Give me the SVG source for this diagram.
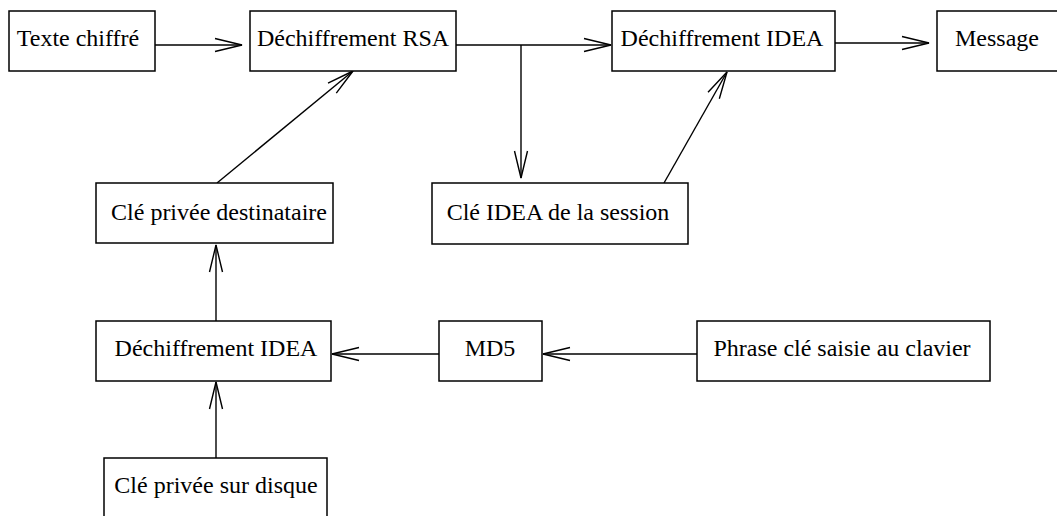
<svg xmlns="http://www.w3.org/2000/svg" width="1057" height="516" viewBox="0 0 1057 516">
<style>
.box{fill:#fff;stroke:#000;stroke-width:1.5}
.lbl{font-family:"Liberation Serif","Times New Roman",serif;font-size:24px;fill:#000;text-anchor:middle}
.con{fill:none;stroke:#000;stroke-width:1.4}
</style>
<defs>
<marker id="arr" viewBox="-30 -8 32 16" refX="0" refY="0" markerWidth="32" markerHeight="16" markerUnits="userSpaceOnUse" orient="auto">
<path d="M-27,-6.5 L0,0 L-27,6.5" fill="none" stroke="#000" stroke-width="1.4"/>
</marker>
</defs>
<rect width="1057" height="516" fill="#fff"/>
<g id="connectors">
<line class="con" x1="155" y1="45" x2="242" y2="45" marker-end="url(#arr)"/>
<line class="con" x1="456" y1="45" x2="611" y2="45" marker-end="url(#arr)"/>
<line class="con" x1="521" y1="45" x2="521" y2="178" marker-end="url(#arr)"/>
<line class="con" x1="664" y1="183" x2="727" y2="72" marker-end="url(#arr)"/>
<line class="con" x1="217" y1="183" x2="353" y2="71" marker-end="url(#arr)"/>
<line class="con" x1="835" y1="43" x2="929" y2="43" marker-end="url(#arr)"/>
<line class="con" x1="216" y1="321" x2="216" y2="245" marker-end="url(#arr)"/>
<line class="con" x1="439" y1="354" x2="332" y2="354" marker-end="url(#arr)"/>
<line class="con" x1="697" y1="354" x2="543" y2="354" marker-end="url(#arr)"/>
<line class="con" x1="216" y1="458" x2="216" y2="382" marker-end="url(#arr)"/>
</g>
<g id="texte-chiffre"><rect class="box" x="9" y="11" width="146" height="60"/><text class="lbl" x="78" y="46">Texte chiffré</text></g>
<g id="dechiffrement-rsa"><rect class="box" x="250" y="11" width="206" height="60"/><text class="lbl" x="353" y="46">Déchiffrement RSA</text></g>
<g id="dechiffrement-idea-1"><rect class="box" x="612" y="11" width="223" height="60"/><text class="lbl" x="722" y="46">Déchiffrement IDEA</text></g>
<g id="message"><rect class="box" x="937" y="11" width="140" height="60"/><text class="lbl" x="997" y="46">Message</text></g>
<g id="cle-privee-destinataire"><rect class="box" x="96" y="183" width="237" height="60"/><text class="lbl" x="219" y="220">Clé privée destinataire</text></g>
<g id="cle-idea-session"><rect class="box" x="432" y="183" width="256" height="61"/><text class="lbl" x="558" y="220">Clé IDEA de la session</text></g>
<g id="dechiffrement-idea-2"><rect class="box" x="96" y="321" width="235" height="60"/><text class="lbl" x="216" y="356">Déchiffrement IDEA</text></g>
<g id="md5"><rect class="box" x="439" y="321" width="103" height="60"/><text class="lbl" x="490" y="356">MD5</text></g>
<g id="phrase-cle"><rect class="box" x="697" y="321" width="293" height="60"/><text class="lbl" x="842" y="356">Phrase clé saisie au clavier</text></g>
<g id="cle-privee-disque"><rect class="box" x="104" y="458" width="223" height="80"/><text class="lbl" x="216" y="493">Clé privée sur disque</text></g>
</svg>
